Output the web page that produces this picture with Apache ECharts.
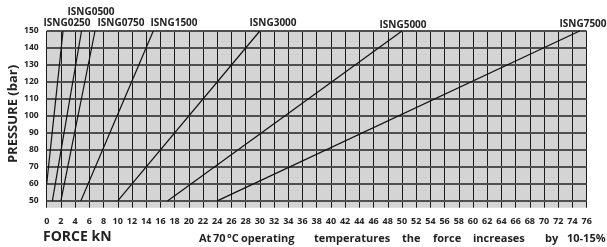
<!DOCTYPE html>
<html>
<head>
<meta charset="utf-8">
<script src="https://cdn.jsdelivr.net/npm/echarts@6/dist/echarts.min.js"></script>
<style>
  html, body { margin: 0; padding: 0; background: #fff; }
  #chart { width: 607px; height: 247px; }
</style>
</head>
<body>
<div id="chart"></div>
<script>
// Model names and the two end points of each line: [force kN, pressure bar]
const models = ['ISNG0250', 'ISNG0500', 'ISNG0750', 'ISNG1500', 'ISNG3000', 'ISNG5000', 'ISNG7500']
const startForce = [0, 0.8, 2, 4.8, 10, 17, 24]
const startPressure = [60, 50, 50, 50, 50, 50, 50]
const endForce = [2.3, 4.9, 6.8, 15, 30, 50, 75]
const endPressure = [150, 150, 150, 150, 150, 150, 150]

// Horizontal grid levels (bar)
const pressureLevels = [50, 60, 70, 80, 90, 100, 110, 120, 130, 140, 150]

const FONT = '"Open Sans", "Noto Sans", sans-serif'

const chart = echarts.init(document.getElementById('chart'), null, { renderer: 'canvas' })

const lineSeries = models.map((name, i) => ({
  name,
  type: 'line',
  data: [[startForce[i], startPressure[i]], [endForce[i], endPressure[i]]],
  symbol: 'none',
  z: 5,
  lineStyle: { color: '#111', width: 1.2 },
  silent: true
}))

// Model label placement (pixel, centred)
const modelLabels = [
  { text: 'ISNG0250', x: 67, y: 23 },
  { text: 'ISNG0500', x: 91, y: 12 },
  { text: 'ISNG0750', x: 121, y: 23 },
  { text: 'ISNG1500', x: 174, y: 23 },
  { text: 'ISNG3000', x: 273, y: 23 },
  { text: 'ISNG5000', x: 403, y: 25 },
  { text: 'ISNG7500', x: 583, y: 24 }
]

// Note words are spread out (justified) in the original
const noteWords = [
  { text: 'At', x: 199 },
  { text: '70', x: 213 },
  { text: '°C', x: 227 },
  { text: 'operating', x: 241 },
  { text: 'temperatures', x: 314 },
  { text: 'the', x: 402 },
  { text: 'force', x: 433 },
  { text: 'increases', x: 473 },
  { text: 'by', x: 545 },
  { text: '10-15%', x: 567 }
]

const graphics = [
  ...modelLabels.map(l => ({
    type: 'text',
    style: {
      text: l.text, x: l.x, y: l.y,
      textAlign: 'center', textVerticalAlign: 'middle',
      font: 'bold 10px ' + FONT, fill: '#222'
    }
  })),
  {
    type: 'text',
    x: 13,
    y: 114,
    rotation: Math.PI / 2,
    style: {
      text: 'PRESSURE (bar)', x: 0, y: 0,
      textAlign: 'center', textVerticalAlign: 'middle',
      font: 'bold 13px ' + FONT, fill: '#222'
    }
  },
  {
    type: 'text',
    style: {
      text: 'FORCE kN', x: 43, y: 237,
      textAlign: 'left', textVerticalAlign: 'middle',
      font: 'bold 14px ' + FONT, fill: '#222'
    }
  },
  ...noteWords.map(w => ({
    type: 'text',
    style: {
      text: w.text, x: w.x, y: 239,
      textAlign: 'left', textVerticalAlign: 'middle',
      font: 'bold 11px ' + FONT, fill: '#222'
    }
  }))
]

chart.setOption({
  animation: false,
  backgroundColor: '#fff',
  grid: {
    left: 46.7,
    right: 20.3,
    top: 31,
    bottom: 39.3,
    show: true,
    backgroundColor: '#d4d4d4',
    borderWidth: 0
  },
  xAxis: {
    type: 'value',
    min: 0,
    max: 76,
    interval: 2,
    axisLine: { show: false },
    axisTick: { show: false },
    axisLabel: {
      margin: 9,
      fontSize: 9,
      fontWeight: 'bold',
      fontFamily: FONT,
      color: '#222',
      showMinLabel: true,
      showMaxLabel: true
    },
    splitLine: {
      show: true,
      showMinLine: true,
      showMaxLine: true,
      lineStyle: { color: '#1a1a1a', width: 1 }
    }
  },
  yAxis: {
    type: 'value',
    min: 46,
    max: 150,
    interval: 2,
    axisLine: { show: false },
    axisTick: { show: false },
    axisLabel: {
      margin: 8,
      fontSize: 8.5,
      fontWeight: 'bold',
      fontFamily: FONT,
      color: '#222',
      formatter: v => (v % 10 === 0 ? String(v) : '')
    },
    splitLine: { show: false }
  },
  series: [
    {
      name: 'grid-levels',
      type: 'line',
      data: [],
      z: 2,
      silent: true,
      markLine: {
        silent: true,
        symbol: ['none', 'none'],
        label: { show: false },
        lineStyle: { color: '#4f4f4f', width: 2, type: 'solid' },
        emphasis: { disabled: true },
        data: pressureLevels.map(v => ({ yAxis: v }))
      }
    },
    ...lineSeries
  ],
  graphic: graphics
})
</script>
</body>
</html>
